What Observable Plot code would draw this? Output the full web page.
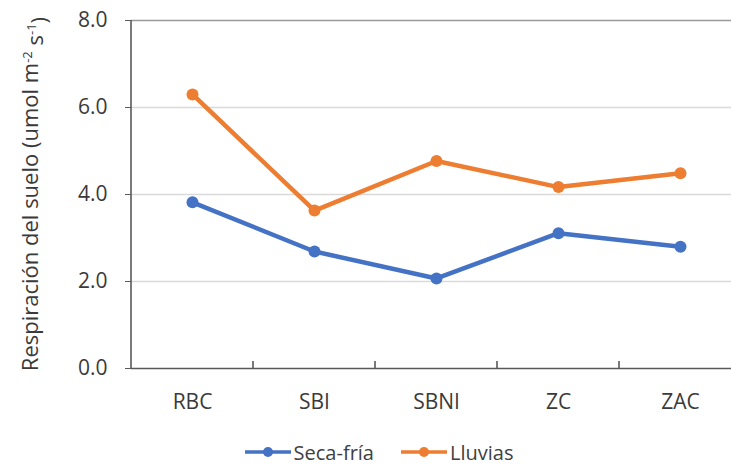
<!DOCTYPE html>
<html>
<head>
<meta charset="utf-8">
<script src="https://cdn.jsdelivr.net/npm/d3@7"></script>
<script src="https://cdn.jsdelivr.net/npm/@observablehq/plot@0.6"></script>
<style>
  html, body { margin: 0; padding: 0; background: #fff; overflow: hidden; }
  #chart { width: 731px; height: 465px; position: relative; }
  #legend { position: absolute; left: 0; top: 440px; width: 731px; height: 24px; line-height: 24px;
            display: flex; justify-content: center; align-items: center; gap: 26px;
            font: 20px "Open Sans", sans-serif; color: #404040; padding-left: 26px; box-sizing: border-box; }
  .item { display: flex; align-items: center; gap: 2px; height: 24px; }
</style>
</head>
<body>
<div id="chart"></div>
<script>
const categories = ["RBC", "SBI", "SBNI", "ZC", "ZAC"];
const secaFria = [3.82, 2.69, 2.07, 3.11, 2.80];
const lluvias = [6.30, 3.63, 4.77, 4.17, 4.49];
const seriesNames = ["Seca-fría", "Lluvias"];
const seriesColors = ["#4472C4", "#ED7D31"];
const yTicks = [0, 2, 4, 6, 8];

const rows = [];
categories.forEach((c, i) => {
  rows.push({cat: c, value: secaFria[i], series: seriesNames[0]});
  rows.push({cat: c, value: lluvias[i], series: seriesNames[1]});
});

const font = '"Open Sans", sans-serif';
const plot = Plot.plot({
  width: 731,
  height: 430,
  marginLeft: 131,
  marginRight: -10,
  marginTop: 20,
  marginBottom: 62,
  style: {fontFamily: font, fontSize: "21px", color: "#404040", background: "#fff", overflow: "hidden"},
  x: {type: "band", domain: categories, padding: 0, label: null},
  y: {domain: [0, 8], label: null},
  color: {domain: seriesNames, range: seriesColors},
  marks: [
    Plot.ruleY(yTicks.filter(d => d > 0 && d < 8), {stroke: "#d9d9d9", strokeWidth: 1.3}),
    Plot.ruleY([8], {stroke: "#9a9a9a", strokeWidth: 1.3}),
    Plot.ruleY([0], {stroke: "#595959", strokeWidth: 1.6}),
    Plot.axisY(yTicks, {tickFormat: d => d.toFixed(1), tickSize: 6, tickPadding: 18, stroke: "#595959", fill: "#3a3a3a", fontSize: 21}),
    Plot.axisX({tickSize: 0, tickPadding: 26, fill: "#3a3a3a", fontSize: 21}),
    Plot.line(rows, {x: "cat", y: "value", z: "series", stroke: "series", strokeWidth: 4.5, strokeLinejoin: "round", strokeLinecap: "round"}),
    Plot.dot(rows, {x: "cat", y: "value", fill: "series", r: 6})
  ]
});

const svg = d3.select(plot);
const xs = plot.scale("x"), ys = plot.scale("y");
const bw = xs.bandwidth;
const xStart = Math.min(...xs.range);
// left axis line
svg.append("line").attr("x1", xStart).attr("x2", xStart)
  .attr("y1", ys.apply(0)).attr("y2", ys.apply(8))
  .attr("stroke", "#595959").attr("stroke-width", 1.6);
// tick marks between categories
categories.slice(1).forEach((c, i) => {
  const xx = xStart + (i + 1) * bw;
  svg.append("line").attr("x1", xx).attr("x2", xx)
    .attr("y1", ys.apply(0)).attr("y2", ys.apply(0) - 7)
    .attr("stroke", "#595959").attr("stroke-width", 1.6);
});
// y axis title with superscripts
const t = svg.append("text")
  .attr("transform", `translate(38,${(ys.apply(0) + ys.apply(8)) / 2}) rotate(-90)`)
  .attr("text-anchor", "middle")
  .attr("fill", "#3a3a3a")
  .style("font-family", font).style("font-size", "22px");
t.append("tspan").text("Respiración del suelo (umol m");
t.append("tspan").text("-2").attr("dy", "-0.5em").style("font-size", "13px");
t.append("tspan").text(" s").attr("dy", "0.5em");
t.append("tspan").text("-1").attr("dy", "-0.5em").style("font-size", "13px");
t.append("tspan").text(")").attr("dy", "0.5em");

document.getElementById("chart").appendChild(plot);

// legend
const legend = document.createElement("div");
legend.id = "legend";
seriesNames.forEach((name, i) => {
  const item = document.createElement("div");
  item.className = "item";
  item.innerHTML = `<svg width="48" height="14"><line x1="1" x2="47" y1="7" y2="7" stroke="${seriesColors[i]}" stroke-width="3.5"/><circle cx="24" cy="7" r="5" fill="${seriesColors[i]}"/></svg><span>${name}</span>`;
  legend.appendChild(item);
});
document.getElementById("chart").appendChild(legend);
</script>
</body>
</html>
